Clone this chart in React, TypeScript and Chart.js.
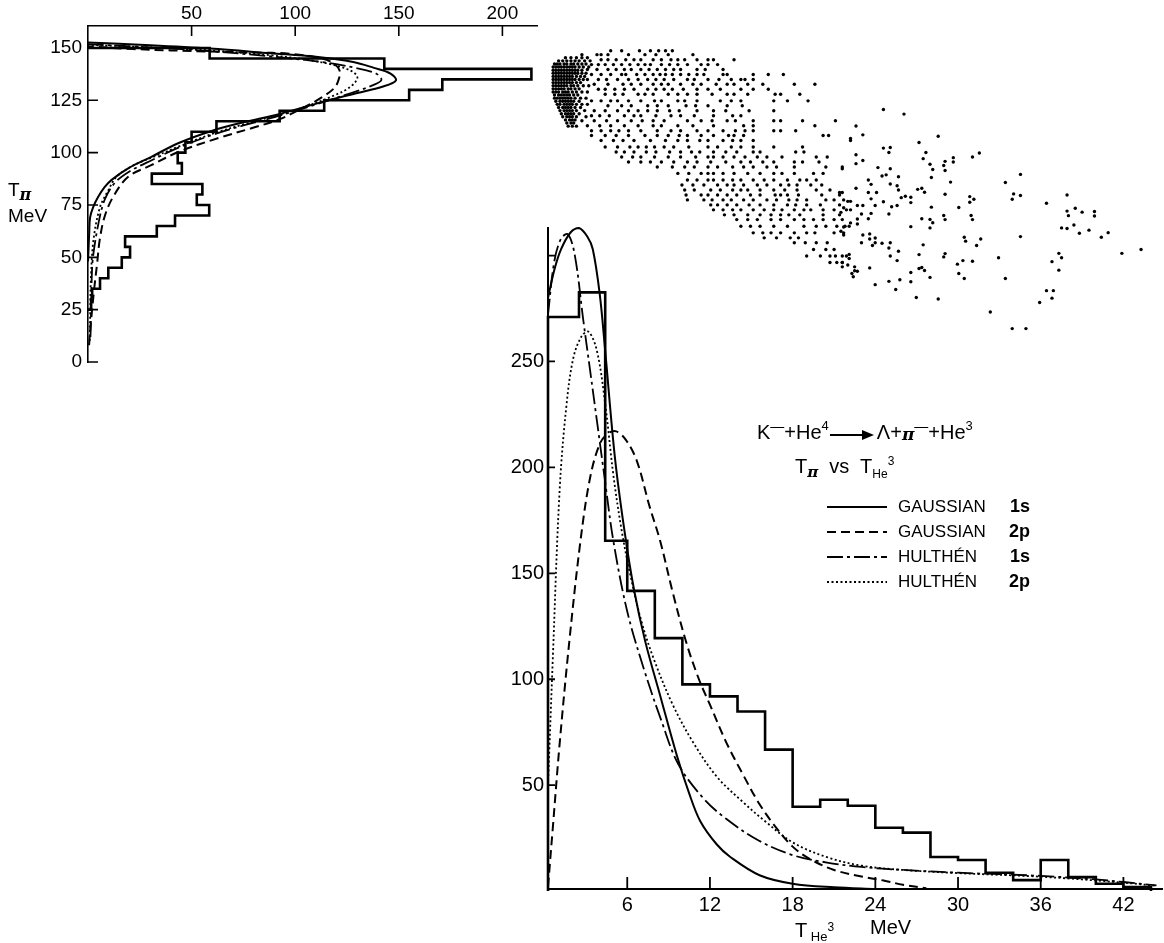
import React, { useEffect, useRef } from 'react';
import { Chart, registerables } from 'chart.js';
Chart.register(...registerables);

const FONT = '"Liberation Sans", Arial, Helvetica, sans-serif';

// ---------- Top-left panel: T_pi projection (counts vs T_pi, drawn sideways) ----------
const tpiEdges = [25, 30, 35, 40, 45, 50, 55, 60, 65, 70, 75, 80, 85, 90, 95, 100, 105, 110, 115, 120, 125, 130, 135, 140, 145, 150];
const tpiCounts = [1.5, 2, 5.8, 9.8, 16.3, 20.3, 17.9, 33.2, 42, 58.5, 52.5, 55.2, 30.8, 45.3, 43.3, 47, 50, 62, 92.5, 114, 155, 171, 214, 143, 58.7];
const tpiTicks = [0, 25, 50, 75, 100, 125, 150];
const countTicks = [50, 100, 150, 200];

// curves: [count, T_pi]
const tpiGauss1s = [[0, 48], [0.3, 55], [0.6, 62], [1, 69], [2.5, 74], [5, 79], [8, 83.5], [11.4, 87], [19.4, 92.5], [30.6, 98], [43.5, 104.5], [60, 110.5], [75, 114.5], [92.5, 118.5], [114, 124.5], [130, 128.5], [142, 131.5], [148.6, 134.5], [146, 137.8], [138, 140.5], [128, 143.3], [110, 145.8], [88, 147.5], [59, 149.7], [30, 151.3], [0, 152.6]];
const tpiGauss2p = [[0.5, 8], [1.5, 20], [3, 35], [4.5, 48], [5.6, 58], [8, 69.4], [12.2, 79], [19.4, 88.5], [30.5, 94], [44, 100.5], [63, 107], [80, 112], [92.5, 116], [104, 121.5], [113, 126.5], [119, 131], [121, 135], [121.5, 139], [119, 142.3], [113, 145], [97, 147.3], [80, 147.8], [58.7, 148.3], [21.6, 149.5], [0, 150.8]];
const tpiHulthen1s = [[1.2, 12], [1.5, 25], [1.8, 40], [2.4, 50], [5, 66], [8, 77.4], [12.8, 85.4], [20, 91], [31, 96.5], [44, 102.5], [60, 108.5], [75, 113], [90, 117], [110, 123], [127, 128.5], [137, 132], [141.6, 134.7], [139, 137.8], [130, 140.3], [115, 143], [92, 145.6], [60, 148.4], [30, 150.3], [0, 151.8]];
const tpiHulthen2p = [[0.8, 10], [1.1, 25], [1.4, 40], [2.6, 58], [5.8, 74], [9.8, 82], [13.8, 88.5], [22, 94], [33, 98.5], [44, 103], [60, 109], [75, 113.5], [90, 117.5], [105, 122], [118, 127], [126, 131], [130, 135.5], [128, 138.5], [120, 141.5], [105, 144.5], [88, 146.5], [60, 148.8], [30, 150.3], [0, 151.5]];

// ---------- Bottom panel: T_He3 distribution ----------
const heEdges = [0.25, 2.5, 4.4, 6, 8, 10, 12, 14, 16, 18, 20, 22, 24, 26, 28, 30, 32, 34, 36, 38, 40, 42, 44];
const heCounts = [271, 282.6, 165.4, 141.7, 119.4, 97.6, 91.9, 84.8, 66.8, 39.8, 43.1, 40.3, 29.9, 27.6, 16.1, 14.7, 8.7, 5.2, 14.7, 6.6, 3.5, 1.9];
const heTicks = [6, 12, 18, 24, 30, 36, 42];
const heTickLabels = ['6', '12', '18', '24', '30', '36', '42'];
const cntTicks = [50, 100, 150, 200, 250, 300];
const cntTickLabels = ['50', '100', '150', '200', '250', ''];

// curves: [T_He3, count]
const heGauss1s = [[0.25, 280], [0.7, 293], [1.2, 303], [1.9, 311], [2.5, 313], [3.1, 309], [3.5, 303], [4.0, 282], [4.4, 255], [5.1, 205], [5.8, 170], [6.5, 142], [7.3, 118], [8.4, 92], [9.6, 64], [10.5, 46], [11.3, 33], [12.5, 22], [13.5, 16], [15.6, 7.5], [18, 3.5], [21, 1.8], [24, 1]];
const heGauss2p = [[0.25, 2], [0.6, 30], [1.1, 70], [1.8, 118], [2.6, 165], [3.3, 195], [4.0, 211], [4.6, 216], [5.2, 217], [5.9, 213], [6.7, 203], [7.6, 182], [8.4, 165], [9.3, 141], [10.3, 117], [11.2, 100], [12.0, 88], [13.2, 70], [14.4, 55], [15.6, 41], [16.8, 30], [18, 21], [19.3, 15], [21, 10], [22.9, 7], [24.6, 5], [26, 3], [27.7, 1.4]];
const heHulthen1s = [[0.25, 272], [0.7, 297], [1.2, 308], [1.7, 310], [2.2, 300], [2.8, 270], [3.3, 246], [3.8, 222], [4.4, 193], [5.0, 165], [6.0, 132], [7.2, 105], [8.5, 80], [9.7, 60], [11.5, 44], [13.2, 34], [15.5, 24], [18, 17], [20.5, 13.5], [23, 11.4], [26, 10], [30, 8.7], [36, 7.2], [40, 5.5], [42, 4.3], [44.4, 2.7]];
const heHulthen2p = [[0.25, 50], [0.6, 110], [1.1, 190], [1.6, 230], [2.1, 252], [2.7, 262], [3.2, 264], [3.8, 255], [4.4, 230], [5.0, 196], [5.6, 170], [6.2, 150], [7.0, 128], [7.9, 110], [9.3, 88], [10.8, 70], [12.5, 54], [14.4, 42], [16, 33], [18, 23], [20.5, 16], [23, 12], [26, 10], [30, 8.5], [36, 6.8], [42, 4], [44.4, 2.5]];

const legendNames = ['GAUSSIAN', 'GAUSSIAN', 'HULTHÉN', 'HULTHÉN'];
const legendStates = ['1s', '2p', '1s', '2p'];

// ---------- Scatter: T_pi vs T_He3 ----------
// rows: [T_pi, list of T_He3]
const scatterRows: [number, number[]][] = [
  [149.4, [4.7, 5.5, 6.8, 7.6, 8.2, 8.7, 9.2]],
  [147.5, [2.6, 3.7, 4.0, 4.5, 6.0, 7.2, 8.0, 8.9, 10.7]],
  [146, [1.4, 1.8, 2.2, 2.6, 3.0]],
  [145, [4.0, 4.5, 5.1, 5.8, 6.4, 6.9, 7.8, 8.4, 9.1, 9.6, 10.1, 11.0, 11.8, 12.2, 13.7]],
  [144.5, [0.9, 1.2, 1.5, 1.8, 2.1, 2.4, 2.8, 3.2]],
  [143, [0.6, 0.8, 1.0, 1.3, 1.5, 1.8, 2.0, 2.3, 2.6, 2.9]],
  [142.7, [3.3, 3.8, 4.3, 4.9, 5.5, 6.1, 6.7, 7.2, 7.6, 8.4, 9.0, 9.6, 10.3, 11.3, 11.8, 12.5]],
  [141.5, [0.5, 0.7, 0.9, 1.1, 1.3, 1.5, 1.7, 1.9, 2.1, 2.4, 2.7, 3.1]],
  [140.3, [3.0, 3.7, 4.5, 5.1, 5.7, 6.2, 6.9, 7.5, 8.1, 8.7, 9.3, 9.8, 11.0, 11.6, 12.9]],
  [140, [0.5, 0.7, 0.9, 1.1, 1.3, 1.5, 1.7, 1.9, 2.1, 2.3, 2.6]],
  [138.5, [0.5, 0.7, 0.9, 1.1, 1.3, 1.5, 1.7, 1.9, 2.1, 2.3, 2.6, 2.9]],
  [137.9, [3.3, 4.0, 4.7, 5.5, 5.8, 6.6, 7.2, 7.8, 8.3, 8.7, 9.2, 9.8, 10.4, 11.0, 11.5, 12.9, 13.2, 15.1, 16.2, 17.3]],
  [137, [0.5, 0.7, 0.9, 1.1, 1.3, 1.5, 1.7, 1.9, 2.2, 2.5, 2.8]],
  [135.5, [0.5, 0.7, 0.9, 1.1, 1.3, 1.5, 1.7, 1.9, 2.1, 2.4, 2.7, 3.0, 3.8, 4.4, 5.2, 6.0, 6.7, 7.4, 8.0, 8.6, 9.3, 10.3, 10.8, 11.8, 12.6, 13.5, 14.2, 14.5, 15.1]],
  [134, [0.5, 0.7, 0.9, 1.1, 1.3, 1.5, 1.7, 1.9, 2.2, 2.5]],
  [133.2, [3.5, 4.5, 5.6, 6.2, 6.9, 7.8, 8.4, 8.9, 9.8, 10.7, 11.3, 12.4, 13.2, 13.7, 14.7, 15.8, 18.1, 19.6]],
  [132.5, [0.5, 0.7, 0.9, 1.1, 1.3, 1.5, 1.8, 2.0, 2.3, 2.7, 3.1]],
  [131, [0.5, 0.7, 0.9, 1.1, 1.3, 1.6, 1.8, 2.1, 2.4]],
  [130.8, [3.8, 4.3, 5.0, 5.7, 6.4, 7.4, 8.0, 8.6, 9.2, 10.0, 11.0, 11.8, 12.7, 14.2, 15.1, 16.2]],
  [129.5, [0.5, 0.7, 0.9, 1.2, 1.4, 1.6, 1.9, 2.2, 2.6, 3.0]],
  [128.4, [4.3, 5.0, 5.6, 6.7, 7.2, 7.8, 8.9, 9.6, 10.3, 11.0, 12.1, 13.2, 13.7, 14.7, 16.7, 17.1, 18.5]],
  [128, [0.6, 0.9, 1.1, 1.3, 1.5, 1.7, 2.0, 2.3]],
  [126.5, [0.6, 0.8, 1.0, 1.2, 1.4, 1.6, 1.8, 2.1, 2.5, 2.9]],
  [125.2, [3.3, 4.0, 4.7, 5.2, 6.0, 6.9, 7.9, 8.4, 9.6, 10.1, 11.0, 12.7, 13.5, 14.2, 16.6, 17.6, 19.1]],
  [125, [0.7, 1.0, 1.2, 1.4, 1.6, 1.8, 2.0, 2.4]],
  [123.5, [0.8, 1.0, 1.3, 1.5, 1.7, 1.9, 2.2, 2.6, 3.0]],
  [122.8, [4.5, 5.5, 6.2, 7.4, 8.1, 8.9, 10.2, 10.9, 11.8, 13.2, 14.3]],
  [122, [0.9, 1.2, 1.4, 1.6, 1.8, 2.1, 2.5]],
  [120.5, [1.0, 1.3, 1.5, 1.7, 1.9, 2.2, 2.8]],
  [120.4, [3.5, 4.3, 5.2, 6.0, 6.7, 7.4, 8.1, 9.0, 9.7, 11.0, 12.2, 13.1, 14.8, 16.6]],
  [119, [1.1, 1.4, 1.6, 1.8, 2.0, 2.4]],
  [118, [3.3, 3.9, 4.6, 5.7, 6.4, 6.9, 8.0, 9.1, 9.8, 10.8, 12.2, 13.6, 14.2]],
  [117.5, [1.2, 1.5, 1.7, 1.9, 2.2, 2.9]],
  [116, [1.4, 1.7, 1.9, 2.1]],
  [115.6, [2.6, 3.5, 4.4, 5.2, 6.2, 7.0, 7.8, 8.6, 10.3, 11.3, 12.1, 13.2, 13.8, 15.1, 16.6, 17.1, 18.7, 21.1]],
  [114.5, [1.5, 1.8, 2.0]],
  [113.2, [3.0, 3.9, 4.7, 5.7, 6.7, 7.8, 8.4, 9.6, 10.7, 12.2, 14.4, 15.1, 19.6]],
  [113, [1.6, 1.9, 2.2]],
  [110.8, [3.3, 4.0, 4.7, 5.3, 6.0, 6.9, 8.1, 9.1, 9.8, 11.0, 11.8, 12.9, 13.8, 14.5, 15.1, 16.6, 17.1, 18.2]],
  [108.5, [3.3, 4.3, 5.1, 6.0, 7.2, 8.1, 8.9, 9.7, 10.3, 11.3, 12.2, 13.3, 13.7, 14.4, 20.2, 20.6]],
  [106.1, [4.0, 4.9, 5.6, 6.4, 7.6, 8.7, 9.6, 10.3, 11.2, 11.8, 12.9, 13.6, 14.2, 15.1, 22.2]],
  [102.9, [4.3, 5.2, 6.1, 6.7, 7.3, 7.9, 8.6, 9.3, 10.4, 11.8, 12.5, 13.5, 14.2, 15.1, 16.6, 18.7]],
  [100.5, [5.1, 5.7, 6.4, 7.3, 8.0, 9.0, 9.8, 10.6, 11.2, 12.2, 13.1, 13.9, 15.1, 15.6, 18.2, 18.8]],
  [98.1, [5.5, 6.3, 6.9, 7.9, 8.9, 9.8, 10.9, 11.8, 12.2, 12.9, 13.7, 14.5, 15.4, 16.1, 17.2, 19.7, 20.5]],
  [95.7, [6.0, 6.9, 7.6, 8.4, 9.3, 10.3, 11.0, 12.0, 13.1, 14.2, 14.9, 15.8, 16.6, 18.1, 18.7, 19.9]],
  [93.3, [8.1, 9.2, 10.1, 10.8, 11.8, 12.5, 13.6, 14.4, 15.1, 16.1, 16.8, 18.1, 20.4, 21.6]],
  [90.2, [9.6, 10.4, 11.3, 11.8, 12.2, 12.9, 13.7, 14.7, 15.6, 16.6, 17.2, 18.1, 19.5, 20.2]],
  [87, [10.3, 11.0, 11.8, 12.2, 12.9, 13.6, 14.2, 15.1, 15.9, 16.6, 17.6, 18.5, 19.0, 19.7]],
  [84.6, [9.9, 10.7, 11.5, 12.5, 13.2, 13.7, 14.4, 15.4, 16.1, 17.1, 17.7, 18.3, 19.3, 20.1]],
  [82.2, [10.1, 10.8, 12.0, 12.7, 13.6, 14.2, 14.7, 15.6, 16.6, 17.4, 18.3, 19.7, 20.7]],
  [79.8, [10.2, 11.3, 11.8, 12.5, 13.2, 13.9, 14.9, 15.6, 16.7, 17.1, 17.6, 18.4, 20.1, 21.4]],
  [77.4, [10.3, 11.5, 12.1, 12.9, 13.5, 14.4, 15.1, 16.1, 16.8, 17.7, 18.3, 19.0, 20.4, 21.0, 21.7]],
  [75, [12.0, 12.5, 13.2, 13.9, 14.8, 15.6, 16.6, 17.6, 18.2, 19.0, 20.0, 21.4]],
  [72.6, [12.2, 12.9, 13.6, 14.2, 15.1, 15.9, 16.6, 17.2, 18.1, 18.8, 19.3, 20.2, 21.0, 21.9]],
  [70.2, [13.0, 13.7, 14.7, 15.6, 16.4, 17.1, 17.7, 18.5, 20.2, 21.4]],
  [67.9, [13.9, 14.7, 15.4, 16.4, 17.1, 18.1, 18.8, 19.5, 20.2, 21.0, 21.6]],
  [64.7, [14.2, 14.9, 15.6, 16.6, 17.6, 18.8, 19.7, 20.4, 21.2, 21.8]],
  [61.5, [15.1, 15.8, 16.4, 17.1, 18.1, 19.0, 19.6, 21.0, 21.7]],
  [59.1, [15.9, 16.8, 17.8, 18.4]],
  [56.7, [18.1, 18.9, 19.7, 20.5]],
  [53.5, [19.5, 20.4, 21.0]],
  [50.3, [19.0, 20.0, 20.7, 21.1, 21.6, 21.9]],
  [47.2, [20.7, 21.2, 21.6]],
];
// far points: [T_He3, T_pi]
const scatterFar = [[24.6, 121], [26.1, 118.8], [22.6, 113.1], [22.2, 107], [23.1, 108.8], [28.6, 108.1], [27.2, 105.1], [24.6, 102.4], [25.1, 102.7], [25.0, 100.3], [27.7, 100.3], [27.5, 97.3], [22.6, 99.2], [22.6, 94.9], [23.1, 96.4], [28.0, 94.6], [28.2, 92.1], [28.1, 88.2], [29.7, 97.8], [29.7, 95.7], [29.1, 96.0], [29.0, 94.0], [29.1, 91.6], [31.1, 98.1], [31.6, 100], [29.5, 86], [21.6, 92.4], [24.2, 93], [24.5, 88.9], [24.8, 89.5], [25.1, 92.4], [25.7, 88.6], [23.5, 87], [23.7, 84.9], [25.1, 85.1], [25.6, 84.2], [25.7, 82.2], [25.9, 78.5], [26.2, 79.2], [26.6, 78.7], [26.6, 76.1], [27.1, 82.5], [27.4, 83], [27.6, 81.1], [29.1, 80.1], [22.6, 83], [21.4, 81], [21.6, 81], [22.0, 76.7], [22.2, 76.7], [22.7, 74.7], [23.1, 74.7], [23.5, 81], [24.1, 81], [23.7, 77.9], [24.6, 76.5], [25.2, 74.1], [25.6, 74.7], [25.0, 70.6], [24.0, 74.7], [23.0, 70.6], [23.7, 70.9], [23.5, 68.3], [22.7, 68.2], [22.7, 65.8], [22.2, 72.6], [21.7, 73.6], [21.5, 71.4], [22.1, 64.7], [22.2, 66.3], [21.7, 64.3], [21.5, 62.3], [21.7, 60.5], [23.1, 60.5], [23.6, 61], [23.0, 56.7], [23.6, 58.5], [24.0, 59], [24.0, 56.7], [23.8, 55.4], [24.5, 56.5], [25.1, 56.7], [25.0, 54.2], [25.7, 52.6], [25.1, 50.3], [25.6, 48.1], [23.6, 44.6], [22.1, 51.1], [22.1, 49.1], [21.6, 47.2], [22.0, 46.0], [21.6, 45.1], [22.5, 45.1], [22.5, 43.2], [22.3, 41.9], [22.7, 43], [22.4, 40.3], [24.0, 36.5], [25.0, 38.1], [25.8, 38.9], [25.5, 34.2], [26.6, 42.4], [26.6, 37.9], [27.2, 44.3], [27.4, 44.8], [27.6, 43.3], [28.0, 40], [27.2, 51], [27.5, 55.7], [26.6, 64.5], [27.4, 68.3], [28.0, 68], [28.2, 66.4], [28.0, 63.9], [28.1, 73.9], [29.0, 69.9], [29.1, 67.9], [30.1, 73.7], [30.9, 79], [31.2, 77.7], [30.9, 76.3], [31.0, 69.9], [31.1, 67.9], [30.5, 59.4], [30.6, 57.5], [31.7, 58.5], [31.4, 55.4], [29.1, 51.5], [29.0, 49.9], [30.0, 46.4], [30.4, 48.1], [31.1, 47.8], [30.1, 41.9], [30.5, 39.5], [27.0, 30.3], [28.6, 29.6], [32.4, 23.3], [34.0, 15.3], [35.0, 15.3], [36.0, 27.9], [36.5, 33.6], [37.0, 33.6], [36.9, 30], [37.4, 43.5], [37.4, 51.6], [37.6, 49.5], [36.9, 47.6], [33.0, 49.5], [33.5, 39.5], [34.6, 59.7], [34.6, 89.7], [33.5, 85.8], [34.1, 80.3], [34.0, 77.7], [34.6, 79.5], [36.5, 75.8], [38.0, 79.8], [38.0, 72], [38.1, 69.8], [38.6, 73.4], [39.1, 71.5], [40.0, 71.8], [40.0, 69.6], [37.6, 63.9], [38.0, 63.6], [38.5, 65.3], [38.9, 61.3], [39.6, 62.8], [40.5, 59.4], [41.0, 61.6], [42.0, 51.6], [43.4, 53.5]];

// ---------- helpers ----------
const pts = (a: number[][]) => a.map(([x, y]) => ({ x, y }));
function sideHist(edges: number[], counts: number[]) {
  const out = [{ x: 0, y: edges[0] }];
  counts.forEach((c, i) => { out.push({ x: c, y: edges[i] }, { x: c, y: edges[i + 1] }); });
  out.push({ x: 0, y: edges[edges.length - 1] });
  return out;
}
function hist(edges: number[], counts: number[]) {
  const out = [{ x: edges[0], y: 0 }];
  counts.forEach((c, i) => { out.push({ x: edges[i], y: c }, { x: edges[i + 1], y: c }); });
  out.push({ x: edges[edges.length - 1], y: 0 });
  return out;
}
const STY = [
  { borderDash: [], borderWidth: 2 },
  { borderDash: [9, 5], borderWidth: 2 },
  { borderDash: [16, 4, 3, 4], borderWidth: 1.8 },
  { borderDash: [2, 2.5], borderWidth: 1.8 },
];
const curve = (label: string, data: number[][], i: number) => ({
  label, data: pts(data), showLine: true, borderColor: '#000', pointRadius: 0, pointHoverRadius: 0,
  tension: 0.35, fill: false, clip: false, ...STY[i],
});
const histSet = (data: any[]) => ({
  label: 'hist', data, showLine: true, borderColor: '#000', borderWidth: 2.6, pointRadius: 0, pointHoverRadius: 0,
  tension: 0, fill: false, clip: false, borderJoinStyle: 'miter',
});

function makeTicks(id: string, xVals: number[], xSide: 'top' | 'bottom', yVals: number[], xLen: number, yLen: number, lw: number) {
  return {
    id,
    afterDatasetsDraw(chart: any) {
      const { ctx, chartArea: a, scales } = chart;
      ctx.save();
      ctx.strokeStyle = '#000';
      ctx.lineWidth = lw;
      ctx.setLineDash([]);
      ctx.beginPath();
      yVals.forEach((v) => {
        const py = scales.y.getPixelForValue(v);
        ctx.moveTo(a.left, py); ctx.lineTo(a.left + yLen, py);
      });
      xVals.forEach((v) => {
        const px = scales.x.getPixelForValue(v);
        if (xSide === 'top') { ctx.moveTo(px, a.top); ctx.lineTo(px, a.top + xLen); }
        else { ctx.moveTo(px, a.bottom); ctx.lineTo(px, a.bottom - xLen); }
      });
      ctx.stroke();
      ctx.restore();
    },
  };
}

const legendPlugin = {
  id: 'figLegend',
  afterDraw(chart: any) {
    const { ctx } = chart;
    const rows = [307, 332, 357, 382];
    ctx.save();
    rows.forEach((y, i) => {
      const ds = chart.data.datasets[i + 1];
      ctx.strokeStyle = '#000';
      ctx.lineWidth = ds.borderWidth;
      ctx.setLineDash(ds.borderDash || []);
      ctx.beginPath(); ctx.moveTo(367, y); ctx.lineTo(427, y); ctx.stroke();
      ctx.setLineDash([]);
      ctx.fillStyle = '#000';
      ctx.textBaseline = 'middle';
      ctx.textAlign = 'left';
      ctx.font = `17px ${FONT}`;
      ctx.fillText(legendNames[i], 438, y);
      ctx.textAlign = 'right';
      ctx.font = `bold 18px ${FONT}`;
      ctx.fillText(legendStates[i], 570, y);
    });
    ctx.restore();
  },
};

const baseOpts = {
  animation: false, responsive: false, events: [],
  plugins: { legend: { display: false }, tooltip: { enabled: false } },
};

function topLeftConfig(): any {
  return {
    type: 'scatter',
    data: {
      datasets: [
        histSet(sideHist(tpiEdges, tpiCounts)),
        curve('GAUSSIAN 1s', tpiGauss1s, 0),
        curve('GAUSSIAN 2p', tpiGauss2p, 1),
        curve('HULTHÉN 1s', tpiHulthen1s, 2),
        curve('HULTHÉN 2p', tpiHulthen2p, 3),
      ],
    },
    options: {
      ...baseOpts,
      layout: { padding: { top: 0, right: 8, bottom: 18, left: 0 } },
      scales: {
        x: {
          type: 'linear', position: 'top', min: 0, max: 216.7,
          afterFit: (s: any) => { s.height = 26; },
          afterBuildTicks: (s: any) => { s.ticks = countTicks.map((v) => ({ value: v })); },
          grid: { display: false, drawTicks: false },
          border: { display: true, color: '#000', width: 1.6 },
          ticks: { color: '#000', font: { family: FONT, size: 19 }, padding: 1, autoSkip: false, maxRotation: 0, callback: (v: any) => String(v) },
        },
        y: {
          type: 'linear', position: 'left', min: 0, max: 160.5,
          afterFit: (s: any) => { s.width = 88; },
          afterBuildTicks: (s: any) => { s.ticks = tpiTicks.map((v) => ({ value: v })); },
          grid: { display: false, drawTicks: false },
          border: { display: true, color: '#000', width: 1.6 },
          ticks: { color: '#000', font: { family: FONT, size: 19 }, padding: 6, autoSkip: false, callback: (v: any) => String(v) },
        },
      },
    },
    plugins: [makeTicks('tlTicks', countTicks, 'top', tpiTicks, 10, 10, 1.6)],
  };
}

function scatterConfig(): any {
  const data = [
    ...scatterRows.flatMap(([t, xs]) => xs.map((x) => ({ x, y: t }))),
    ...pts(scatterFar),
  ];
  return {
    type: 'scatter',
    data: { datasets: [{ data, pointRadius: 1.7, pointBackgroundColor: '#000', pointBorderWidth: 0, pointHoverRadius: 0, clip: false }] },
    options: {
      ...baseOpts,
      layout: { padding: 0 },
      scales: {
        x: { type: 'linear', display: false, min: 0.25, max: 44.95 },
        y: { type: 'linear', display: false, min: 0, max: 160.5 },
      },
    },
  };
}

function bottomConfig(): any {
  return {
    type: 'scatter',
    data: {
      datasets: [
        histSet(hist(heEdges, heCounts)),
        curve('GAUSSIAN 1s', heGauss1s, 0),
        curve('GAUSSIAN 2p', heGauss2p, 1),
        curve('HULTHÉN 1s', heHulthen1s, 2),
        curve('HULTHÉN 2p', heHulthen2p, 3),
      ],
    },
    options: {
      ...baseOpts,
      layout: { padding: { top: 28, right: 2, bottom: 0, left: 0 } },
      scales: {
        x: {
          type: 'linear', position: 'bottom', min: 0.25, max: 44.8,
          afterFit: (s: any) => { s.height = 54; },
          afterBuildTicks: (s: any) => { s.ticks = heTicks.map((v) => ({ value: v })); },
          grid: { display: false, drawTicks: false },
          border: { display: true, color: '#000', width: 2 },
          ticks: {
            color: '#000', font: { family: FONT, size: 20 }, padding: 4, autoSkip: false, maxRotation: 0,
            callback: (v: any) => { const i = heTicks.indexOf(v); return i >= 0 ? heTickLabels[i] : ''; },
          },
        },
        y: {
          type: 'linear', position: 'left', min: 1, max: 313,
          afterFit: (s: any) => { s.width = 88; },
          afterBuildTicks: (s: any) => { s.ticks = cntTicks.map((v) => ({ value: v })); },
          grid: { display: false, drawTicks: false },
          border: { display: true, color: '#000', width: 2 },
          ticks: {
            color: '#000', font: { family: FONT, size: 20 }, padding: 4, autoSkip: false,
            callback: (v: any) => { const i = cntTicks.indexOf(v); return i >= 0 ? cntTickLabels[i] : ''; },
          },
        },
      },
    },
    plugins: [makeTicks('btTicks', heTicks, 'bottom', cntTicks, 12, 7, 1.8), legendPlugin],
  };
}

const Sup = ({ children, size = 12, up = 9 }: any) => (
  <span style={{ fontSize: size, position: 'relative', top: -up }}>{children}</span>
);
const Sub = ({ children, size = 13, down = 5, bold = false }: any) => (
  <span style={{ fontSize: size, position: 'relative', top: down, fontWeight: bold ? 'bold' : 'normal' }}>{children}</span>
);
const Pi = ({ size = 15, down = 4 }: any) => (
  <span style={{ fontSize: size, fontStyle: 'italic', fontWeight: 'bold', position: 'relative', top: down, fontFamily: '"DejaVu Serif", serif' }}>π</span>
);
const Arrow = () => (
  <span style={{ display: 'inline-block', verticalAlign: 'middle', marginLeft: 1, marginRight: 3 }}>
    <span style={{ display: 'inline-block', width: 32, borderTop: '2px solid #000', verticalAlign: 'middle' }} />
    <span style={{ display: 'inline-block', width: 0, height: 0, borderTop: '5px solid transparent', borderBottom: '5px solid transparent', borderLeft: '12px solid #000', verticalAlign: 'middle' }} />
  </span>
);

export default function App() {
  const tlRef = useRef<HTMLCanvasElement>(null);
  const scRef = useRef<HTMLCanvasElement>(null);
  const btRef = useRef<HTMLCanvasElement>(null);

  useEffect(() => {
    const charts: Chart[] = [];
    if (tlRef.current) charts.push(new Chart(tlRef.current, topLeftConfig()));
    if (scRef.current) charts.push(new Chart(scRef.current, scatterConfig()));
    if (btRef.current) charts.push(new Chart(btRef.current, bottomConfig()));
    return () => charts.forEach((c) => c.destroy());
  }, []);

  const txt: any = { position: 'absolute', fontFamily: FONT, color: '#000', lineHeight: 1, whiteSpace: 'nowrap' };

  return (
    <div style={{ position: 'absolute', left: 0, top: 0, width: 1164, height: 943, background: '#fff', overflow: 'hidden' }}>
      <canvas ref={tlRef} width={545} height={380} style={{ position: 'absolute', left: 0, top: 0 }} />
      <canvas ref={scRef} width={616} height={336} style={{ position: 'absolute', left: 548, top: 26 }} />
      <canvas ref={btRef} width={704} height={743} style={{ position: 'absolute', left: 460, top: 200 }} />

      <div style={{ ...txt, left: 8, top: 180, fontSize: 19 }}>T<Pi size={16} down={4} /></div>
      <div style={{ ...txt, left: 8, top: 206, fontSize: 19 }}>MeV</div>

      <div style={{ ...txt, left: 757, top: 422, fontSize: 20 }}>
        K<Sup size={14} up={8}>—</Sup>+He<Sup size={13}>4</Sup><Arrow />Λ+<Pi size={17} down={1} /><Sup size={14} up={8}>—</Sup>+He<Sup size={13}>3</Sup>
      </div>
      <div style={{ ...txt, left: 795, top: 456, fontSize: 20 }}>
        T<Pi size={15} down={4} />&nbsp; vs&nbsp; T<Sub size={12} down={5}>He</Sub><Sup size={12} up={8}>3</Sup>
      </div>

      <div style={{ ...txt, left: 795, top: 920, fontSize: 20 }}>
        T<Sub size={13} down={4}> He</Sub><Sup size={12} up={6}>3</Sup>
      </div>
      <div style={{ ...txt, left: 870, top: 917, fontSize: 20 }}>MeV</div>
    </div>
  );
}
